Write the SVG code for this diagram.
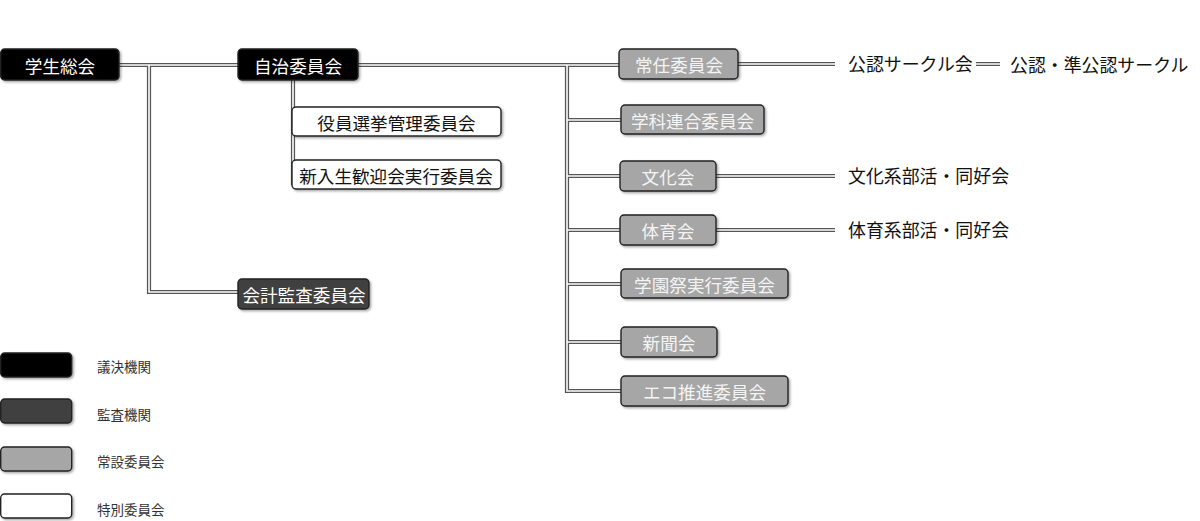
<svg xmlns="http://www.w3.org/2000/svg" width="1200" height="521" viewBox="0 0 1200 521">
<style>
text{font-family:"Noto Sans CJK JP","Noto Sans CJK SC",sans-serif;font-size:17.6px;dominant-baseline:central}
.box{stroke:#222;stroke-width:1.4}
.blk{fill:#000}
.dk{fill:#404040}
.gr{fill:#a6a6a6}
.wh{fill:#fff}
.tw{fill:#fff;text-anchor:middle}
.tg{fill:#f4f4f4;text-anchor:middle}
.tb{fill:#111;text-anchor:middle}
.tr{fill:#111;font-size:17.9px}
.lg{fill:#333;font-size:13.5px}
.outer{fill:none;stroke:#555;stroke-width:4.2}
.inner{fill:none;stroke:#fff;stroke-width:1.6}
</style>
<defs>
<filter id="sh" x="-10%" y="-20%" width="120%" height="150%">
<feDropShadow dx="1.5" dy="1.5" stdDeviation="1" flood-color="#000" flood-opacity="0.35"/>
</filter>
</defs>
<g id="connectors">
<g class="outer">
<path d="M119 65H620"/>
<path d="M149 65V292H238"/>
<path d="M293 80V185"/>
<path d="M567 65V391H621"/>
<path d="M567 120H621M567 176H620M567 230H620M567 284H621M567 342H621"/>
<path d="M738 64H835M716 176H835M716 230H835M976 64H1000"/>
</g>
<g class="inner">
<path d="M119 65H620"/>
<path d="M149 65V292H238"/>
<path d="M293 80V185"/>
<path d="M567 65V391H621"/>
<path d="M567 120H621M567 176H620M567 230H620M567 284H621M567 342H621"/>
<path d="M738 64H835M716 176H835M716 230H835M976 64H1000"/>
</g>
</g>
<g id="gakusei-sokai"><rect class="box blk" filter="url(#sh)" x="0.7" y="49" width="118.3" height="31" rx="4"/><text class="tw" x="60" y="65">学生総会</text></g>
<g id="jichi-iinkai"><rect class="box blk" filter="url(#sh)" x="238" y="49" width="120" height="31" rx="4"/><text class="tw" x="298" y="65">自治委員会</text></g>
<g id="yakuin-senkyo"><rect class="box wh" filter="url(#sh)" x="292" y="107" width="209" height="29" rx="4"/><text class="tb" x="396.5" y="122">役員選挙管理委員会</text></g>
<g id="shinnyusei-kangei"><rect class="box wh" filter="url(#sh)" x="292" y="160" width="209" height="29" rx="4"/><text class="tb" x="396" y="175">新入生歓迎会実行委員会</text></g>
<g id="kaikei-kansa"><rect class="box dk" filter="url(#sh)" x="238" y="279" width="131" height="30" rx="4"/><text class="tw" x="304" y="294">会計監査委員会</text></g>
<g id="jonin-iinkai"><rect class="box gr" filter="url(#sh)" x="619" y="49" width="119" height="30" rx="4"/><text class="tg" x="679" y="64.5">常任委員会</text></g>
<g id="gakka-rengo"><rect class="box gr" filter="url(#sh)" x="621" y="105" width="143" height="29" rx="4"/><text class="tg" x="692.5" y="120">学科連合委員会</text></g>
<g id="bunkakai"><rect class="box gr" filter="url(#sh)" x="620" y="161" width="96" height="30" rx="4"/><text class="tg" x="668" y="176">文化会</text></g>
<g id="taiikukai"><rect class="box gr" filter="url(#sh)" x="620" y="215" width="96" height="30" rx="4"/><text class="tg" x="668" y="230">体育会</text></g>
<g id="gakuensai"><rect class="box gr" filter="url(#sh)" x="621" y="269" width="167" height="29" rx="4"/><text class="tg" x="704.5" y="284">学園祭実行委員会</text></g>
<g id="shinbunkai"><rect class="box gr" filter="url(#sh)" x="621" y="327" width="96" height="30" rx="4"/><text class="tg" x="669" y="342">新聞会</text></g>
<g id="eco-suishin"><rect class="box gr" filter="url(#sh)" x="621" y="376" width="167" height="30" rx="4"/><text class="tg" x="704.5" y="391">エコ推進委員会</text></g>
<g id="koninsa-kurukai"><text class="tr" x="848" y="63">公認サークル会</text></g>
<g id="konin-junkonin"><text class="tr" x="1010" y="64">公認・準公認サークル</text></g>
<g id="bunkakei"><text class="tr" x="848" y="175">文化系部活・同好会</text></g>
<g id="taiikukei"><text class="tr" x="848" y="229">体育系部活・同好会</text></g>
<g id="legend">
<rect class="box blk" filter="url(#sh)" x="0.7" y="353" width="71" height="24" rx="4"/><text class="lg" x="97" y="366">議決機関</text>
<rect class="box dk" filter="url(#sh)" x="0.7" y="399" width="71" height="24" rx="4"/><text class="lg" x="97" y="414">監査機関</text>
<rect class="box gr" filter="url(#sh)" x="0.7" y="447" width="71" height="24" rx="4"/><text class="lg" x="97" y="461">常設委員会</text>
<rect class="box wh" filter="url(#sh)" x="0.7" y="494" width="71" height="24" rx="4"/><text class="lg" x="97" y="509">特別委員会</text>
</g>
</svg>
